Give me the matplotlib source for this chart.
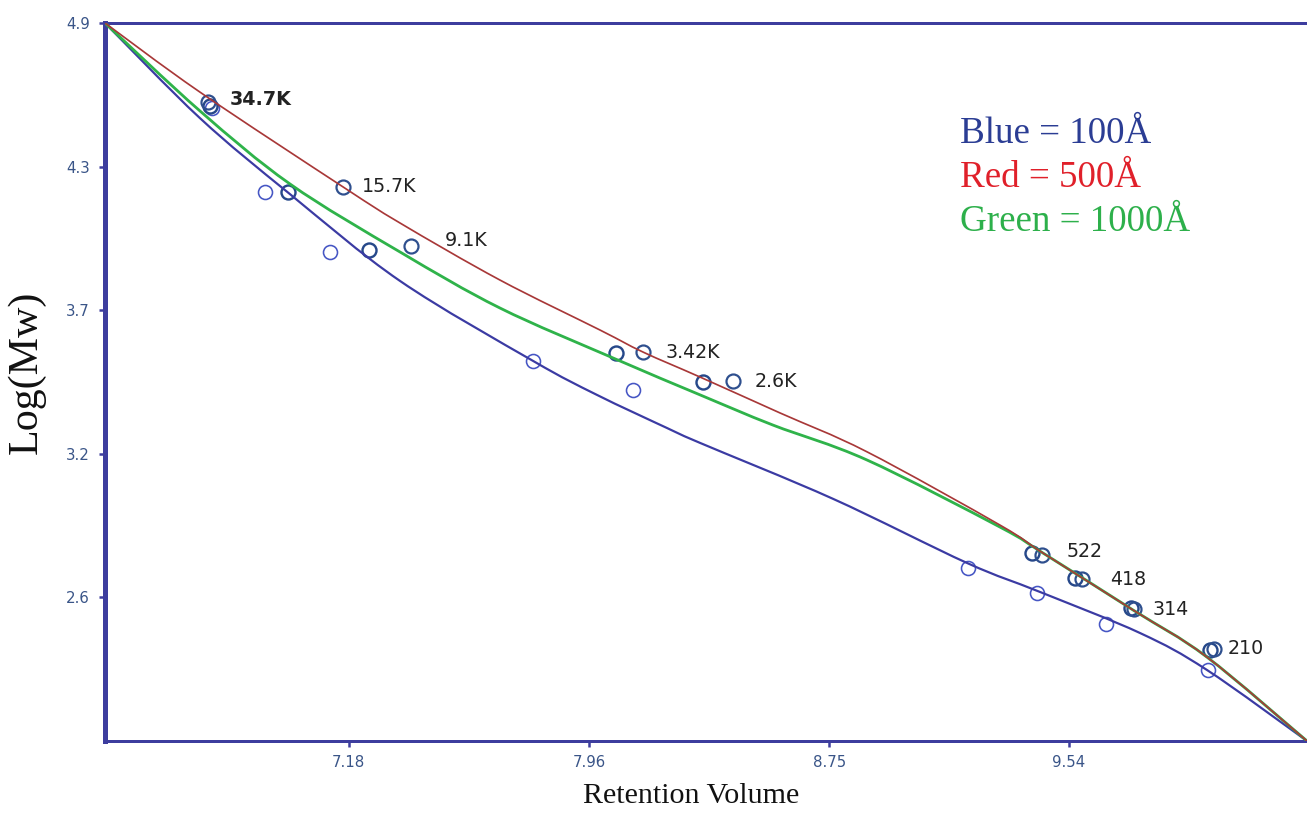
import matplotlib
matplotlib.use('Agg')
import matplotlib.pyplot as plt
from matplotlib.path import Path
from matplotlib.patches import PathPatch

# calibration curves
blue_x = [6.394, 6.705, 7.000, 7.361, 7.797, 8.006, 8.236, 8.344, 8.780, 9.219, 9.458, 9.786, 10.005, 10.333]
blue_y = [4.900, 4.516, 4.209, 3.858, 3.535, 3.398, 3.264, 3.204, 2.978, 2.719, 2.602, 2.436, 2.287, 2.000]

green_x = [6.394, 6.705, 7.000, 7.361, 7.688, 8.059, 8.344, 8.583, 8.891, 9.327, 9.468, 9.763, 10.005, 10.333]
green_y = [4.900, 4.545, 4.250, 3.975, 3.749, 3.547, 3.398, 3.276, 3.135, 2.864, 2.759, 2.529, 2.339, 2.000]

red_x = [6.394, 6.705, 7.174, 7.361, 7.688, 8.016, 8.157, 8.344, 8.606, 8.891, 9.327, 9.468, 9.763, 10.005, 10.333]
red_y = [4.900, 4.621, 4.238, 4.092, 3.862, 3.660, 3.571, 3.470, 3.325, 3.168, 2.872, 2.759, 2.529, 2.339, 2.000]

# standards
labels = ['34.7K', '15.7K', '9.1K', '3.42K', '2.6K', '522', '418', '314', '210']
pts_blue_x = [6.745, 6.918, 7.131, 7.797, 8.124, 9.222, 9.448, 9.674, 10.009]
pts_blue_y = [4.557, 4.217, 3.975, 3.535, 3.418, 2.699, 2.598, 2.473, 2.287]
pts_green_x = [6.738, 6.994, 7.259, 8.069, 8.354, 9.432, 9.573, 9.756, 10.015]
pts_green_y = [4.565, 4.217, 3.983, 3.567, 3.450, 2.759, 2.658, 2.537, 2.368]
pts_red_x = [6.732, 7.174, 7.397, 8.157, 8.452, 9.465, 9.596, 9.766, 10.028]
pts_red_y = [4.581, 4.238, 3.999, 3.571, 3.454, 2.751, 2.654, 2.533, 2.372]

xticks = [7.192, 7.980, 8.767, 9.553]
xtick_labels = ['7.18', '7.96', '8.75', '9.54']
yticks = [4.9, 4.32, 3.74, 3.16, 2.58]
ytick_labels = ['4.9', '4.3', '3.7', '3.2', '2.6']

axis_col = '#3d3d9e'
tick_col = '#3a5588'


def smooth_path(xs, ys):
    # catmull-rom through the read points, drawn as cubic bezier segments
    p = list(zip(xs, ys))
    p = [p[0]] + p + [p[-1]]
    verts = [p[1]]
    codes = [Path.MOVETO]
    for i in range(1, len(p) - 2):
        p0, p1, p2, p3 = p[i - 1], p[i], p[i + 1], p[i + 2]
        c1 = (p1[0] + (p2[0] - p0[0]) / 6, p1[1] + (p2[1] - p0[1]) / 6)
        c2 = (p2[0] - (p3[0] - p1[0]) / 6, p2[1] - (p3[1] - p1[1]) / 6)
        verts += [c1, c2, p2]
        codes += [Path.CURVE4] * 3
    return Path(verts, codes)


fig = plt.figure(figsize=(1307 / 72, 818 / 72), dpi=72)
ax = fig.add_axes([105 / 1307, 1 - 741 / 818, 1202 / 1307, 718 / 818])

ax.add_patch(PathPatch(smooth_path(blue_x, blue_y), fill=False, ec='#3b3ba3', lw=2.2, zorder=3))
ax.add_patch(PathPatch(smooth_path(green_x, green_y), fill=False, ec='#2fb34a', lw=2.8, zorder=3))
ax.add_patch(PathPatch(smooth_path(red_x, red_y), fill=False, ec='#a83838', lw=1.7, zorder=4))

ax.plot(pts_blue_x, pts_blue_y, 'o', ms=14, mfc='none', mec='#4656c4', mew=1.6, zorder=2)
ax.plot(pts_green_x, pts_green_y, 'o', ms=14, mfc='none', mec='#26488a', mew=2.4, zorder=2)
ax.plot(pts_red_x, pts_red_y, 'o', ms=14, mfc='none', mec='#2e4f8e', mew=2.2, zorder=2)

offsets = [(22, 2), (19, 0), (34, 6), (23, 0), (22, 0), (24, 4), (28, 0), (19, 0), (14, 0)]
for lab, x, y, off in zip(labels, pts_red_x, pts_red_y, offsets):
    ax.annotate(lab, (x, y), xytext=off, textcoords='offset points',
                fontsize=19, color='#222222', va='center', ha='left',
                fontweight='bold' if lab == '34.7K' else 'normal')

ax.set_xlim(6.394, 10.333)
ax.set_ylim(2.0, 4.9)
ax.set_xticks(xticks)
ax.set_xticklabels(xtick_labels)
ax.set_yticks(yticks)
ax.set_yticklabels(ytick_labels)
ax.tick_params(axis='both', colors=axis_col, labelcolor=tick_col, labelsize=15,
               length=6, width=2.5, direction='out')
ax.tick_params(axis='x', pad=8)
ax.tick_params(axis='y', pad=9)

ax.spines['right'].set_visible(False)
ax.spines['left'].set_linewidth(5)
ax.spines['bottom'].set_linewidth(3)
ax.spines['top'].set_linewidth(3)
for s in ['left', 'bottom', 'top']:
    ax.spines[s].set_color(axis_col)

ax.set_xlabel('Retention Volume', fontsize=30, family='Liberation Serif', color='#111111')
ax.xaxis.set_label_coords((691 - 105) / 1202, -(783 - 741) / 718)
ax.set_ylabel('Log(Mw)', fontsize=42, family='Liberation Serif', color='#111111')
ax.yaxis.set_label_coords(-(105 - 46) / 1202, (741 - 372) / 718)

legend_lines = [('Blue = 100Å', '#2b3d94'), ('Red = 500Å', '#e0202a'), ('Green = 1000Å', '#2db04b')]
for i, (txt, col) in enumerate(legend_lines):
    fig.text(960 / 1307, 1 - (143 + 44 * i) / 818, txt, fontsize=37,
             family='Liberation Serif', color=col, ha='left', va='baseline')

fig.savefig('out.png', dpi=72)
